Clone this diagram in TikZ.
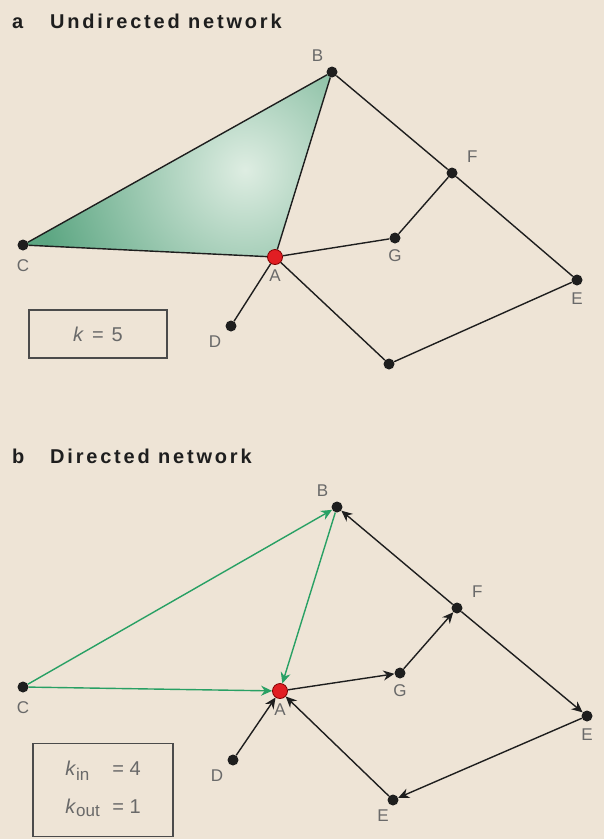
\documentclass[tikz,border=0pt]{standalone}
\usepackage{fontspec}
\setmainfont{Liberation Sans}
\newfontfamily\headfont{Liberation Sans}[LetterSpace=14]
\usetikzlibrary{arrows.meta,positioning}
\definecolor{paper}{RGB}{238,228,214}
\definecolor{ink}{RGB}{30,30,30}
\definecolor{lblgray}{RGB}{105,105,105}
\definecolor{arcgreen}{RGB}{40,160,100}
\definecolor{hubred}{RGB}{225,30,35}
\definecolor{triout}{RGB}{92,166,130}
\definecolor{triin}{RGB}{222,237,226}
\pgfdeclarelayer{bg}
\pgfsetlayers{bg,main}
\tikzset{
  vtx/.style={circle, fill=ink, inner sep=0pt, minimum size=11pt},
  hub/.style={circle, fill=hubred, draw=red!50!black, line width=0.8pt,
              inner sep=0pt, minimum size=15pt},
  lbl/.style={font=\fontsize{17}{17}\selectfont, text=lblgray, inner sep=0pt},
  head/.style={font=\headfont\bfseries\fontsize{20}{20}\selectfont, text=ink,
               anchor=base west, inner sep=0pt},
  kbox/.style={draw=ink!80, line width=1.5pt, inner sep=0pt, text=lblgray,
               font=\fontsize{20}{20}\selectfont},
  link/.style={draw=ink, line width=1.4pt},
  arc/.style={link, -{Stealth[length=11pt, width=10pt]}},
  garc/.style={arc, draw=arcgreen},
}
\begin{document}
\begin{tikzpicture}[x=1pt, y=-1pt]
  \useasboundingbox (0,0) rectangle (604,839);
  % panel a
  \node[head] (ttlU) at (12,28) {\makebox[38pt][l]{a}Undirected network};
  \node[vtx] (uB) at (332,72) {};
  \node[vtx] (uF) at (452,173) {};
  \node[vtx] (uG) at (395,238) {};
  \node[hub] (uA) at (275,257) {};
  \node[vtx] (uC) at (23,245) {};
  \node[vtx] (uE) at (577,280) {};
  \node[vtx] (uD) at (231,326) {};
  \node[vtx] (uX) at (389,364) {};
  \node[lbl, above left=6pt and 4.5pt of uB] (uBl) {B};
  \node[lbl, above right=6pt and 11pt of uF] (uFl) {F};
  \node[lbl, below=6pt of uG] (uGl) {G};
  \node[lbl, below=5pt of uA] (uAl) {A};
  \node[lbl, below=8.5pt of uC] (uCl) {C};
  \node[lbl, below=6.5pt of uE] (uEl) {E};
  \node[lbl, below left=6pt and 5.5pt of uD] (uDl) {D};
  \begin{pgfonlayer}{bg}
    \fill[paper] (0,0) rectangle (604,839);
    \begin{scope}
      \clip (uC.center) -- (uB.center) -- (uA.center) -- cycle;
      \fill[triout] (uC.center) -- (uB.center) -- (uA.center) -- cycle;
      \shade[inner color=triin, outer color=triout] (245,170) circle (210);
    \end{scope}
  \end{pgfonlayer}
  \draw[link] (uC) -- (uB);
  \draw[link] (uB) -- (uA);
  \draw[link] (uA) -- (uC);
  \draw[link] (uB) -- (uF);
  \draw[link] (uF) -- (uG);
  \draw[link] (uG) -- (uA);
  \draw[link] (uF) -- (uE);
  \draw[link] (uE) -- (uX);
  \draw[link] (uX) -- (uA);
  \draw[link] (uA) -- (uD);
  \node[kbox, minimum width=138pt, minimum height=48pt] (kU) at (98,334)
    {\textit{k}\hspace{8pt}=\hspace{8pt}5\hspace{11pt}};

  % panel b
  \node[head] (ttlD) at (12,463) {\makebox[38pt][l]{b}Directed network};
  \node[vtx] (dB) at (337,507) {};
  \node[vtx] (dF) at (457,608) {};
  \node[vtx] (dG) at (400,673) {};
  \node[hub] (dA) at (280,691) {};
  \node[vtx] (dC) at (23,687) {};
  \node[vtx] (dE) at (587,716) {};
  \node[vtx] (dD) at (233,760) {};
  \node[vtx] (dX) at (393,800) {};
  \node[lbl, above left=6pt and 4.5pt of dB] (dBl) {B};
  \node[lbl, above right=6pt and 11pt of dF] (dFl) {F};
  \node[lbl, below=6pt of dG] (dGl) {G};
  \node[lbl, below=5pt of dA] (dAl) {A};
  \node[lbl, below=8.5pt of dC] (dCl) {C};
  \node[lbl, below=6.5pt of dE] (dEl) {E};
  \node[lbl, below left=6pt and 5.5pt of dD] (dDl) {D};
  \node[lbl, below left=6pt and 0pt of dX] (dXl) {E};
  \draw[garc] (dC) -- (dB);
  \draw[garc] (dC) -- (dA);
  \draw[garc] (dB) -- (dA);
  \draw[arc] (dF) -- (dB);
  \draw[arc] (dG) -- (dF);
  \draw[arc] (dA) -- (dG);
  \draw[arc] (dF) -- (dE);
  \draw[arc] (dE) -- (dX);
  \draw[arc] (dX) -- (dA);
  \draw[arc] (dD) -- (dA);
  \node[kbox, minimum width=140pt, minimum height=93pt] (kD) at (103,790)
    {\begin{tabular}{@{}l@{\hspace{12pt}}l@{}}
       \textit{k}\textsubscript{\fontsize{17}{17}\selectfont in} & = 4\\[17pt]
       \textit{k}\textsubscript{\fontsize{17}{17}\selectfont out} & = 1
     \end{tabular}};
\end{tikzpicture}
\end{document}
